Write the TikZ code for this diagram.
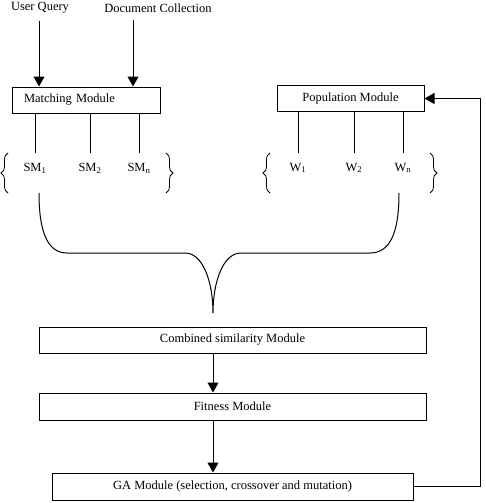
\documentclass[tikz,border=0pt]{standalone}
\usepackage{fontspec}
\setmainfont{Liberation Serif}
\usetikzlibrary{arrows.meta,decorations.pathreplacing}

\begin{document}
\begin{tikzpicture}[x=1pt,y=-1pt,
        box/.style={draw,line width=1pt,minimum height=26pt,inner sep=0pt,font=\fontsize{12.5}{15}\selectfont},
        lbl/.style={minimum height=30pt,inner sep=0pt,font=\fontsize{12.5}{15}\selectfont},
        arr/.style={line width=1pt,-{Triangle[width=11pt,length=10pt]}},
        brc/.style={decorate,decoration={brace,amplitude=7pt},line width=0.8pt}]
    \useasboundingbox (0,0) rectangle (485,503);
    % inputs
    \node[inner xsep=0pt,inner ysep=7pt,font=\fontsize{12.5}{15}\selectfont] (uq) at (40,8) {User Query};
    \node[inner xsep=0pt,inner ysep=7pt,font=\fontsize{12.5}{15}\selectfont] (dc) at (158,8) {Document Collection};
    \node[box,minimum width=148pt,text width=124pt,inner xsep=12pt,align=left] (mm) at (86,100) {Matching Module};
    \node[box,minimum width=147pt] (pop) at (350.5,98.5) {Population Module};
    \draw[arr] ([xshift=-1pt]uq.south) -- ([xshift=-1pt]uq.south |- mm.north);
    \draw[arr] ([xshift=-25pt]dc.south) -- ([xshift=-25pt]dc.south |- mm.north);
    % similarity values and weights
    \node[lbl] (sm1) at (35,168) {SM\textsubscript{1}};
    \node[lbl] (sm2) at (90,168) {SM\textsubscript{2}};
    \node[lbl] (smn) at (139,168) {SM\textsubscript{n}};
    \node[lbl] (w1) at (298,168) {W\textsubscript{1}};
    \node[lbl] (w2) at (354,168) {W\textsubscript{2}};
    \node[lbl] (wn) at (403,168) {W\textsubscript{n}};
    \foreach \n in {sm1,sm2,smn} \draw[line width=1pt] (\n.north |- mm.south) -- (\n.north);
    \foreach \n in {w1,w2,wn} \draw[line width=1pt] (\n.north |- pop.south) -- (\n.north);
    \draw[brc] (8,193) -- (8,153);
    \draw[brc] (166,153) -- (166,193);
    \draw[brc] (270,193) -- (270,153);
    \draw[brc] (430,153) -- (430,193);
    % joining brace
    \coordinate (tip) at (213,313);
    \draw[line width=1pt] (39,193) .. controls (39,235) and (49,253) .. (67,253) -- (185,253)
        .. controls (203,253) and (213,282) .. (tip)
        .. controls (213,282) and (223,253) .. (241,253) -- (370,253)
        .. controls (389,253) and (399,235) .. (399,193);
    % modules
    \node[box,minimum width=387pt] (comb) at (232.5,340) {Combined similarity Module};
    \node[box,minimum width=387pt,minimum height=27pt] (fit) at (232.5,406.5) {Fitness Module};
    \node[box,minimum width=361pt,minimum height=27pt] (ga) at (232.5,486.5) {GA Module (selection, crossover and mutation)};
    \draw[arr] (comb.south -| tip) -- (fit.north -| tip);
    \draw[arr] (fit.south -| tip) -- (ga.north -| tip);
    \coordinate (back) at (480,486.5);
    \draw[arr] (ga.east) -- (back) |- (pop.east);
\end{tikzpicture}
\end{document}
